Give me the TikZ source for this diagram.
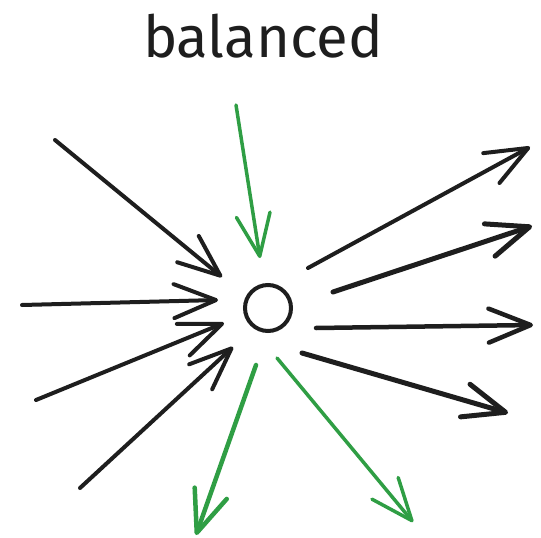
\documentclass[tikz,border=0pt]{standalone}
\usepackage{fontspec}
\setmainfont{Fira Sans}
\usepackage{xcolor}
\usetikzlibrary{arrows.meta}

\definecolor{ink}{HTML}{1E1E1E}
\definecolor{leaf}{HTML}{2F9E44}

\tikzset{
  force/.style={draw=ink, line width=4pt, line cap=round, line join=round,
    -{Straight Barb[length=42pt, width=34pt, round]}},
  green force/.style={force, draw=leaf, line width=3.5pt},
}

\begin{document}
\begin{tikzpicture}[x=1pt, y=-1pt]
    \useasboundingbox (0,0) rectangle (541,538);
    \node (title) [ink, font=\fontsize{58}{60}\selectfont, anchor=base] at (263,57) {balanced};
    \node (hub) [circle, draw=ink, line width=4pt, minimum size=46pt, inner sep=0pt] at (268,308) {};

    % forces coming in
    \coordinate (in1) at (55,140);   \coordinate (in1e) at (222,277);
    \coordinate (in2) at (236,105);  \coordinate (in2e) at (260,258);
    \coordinate (in3) at (22,305);   \coordinate (in3e) at (218,300);
    \coordinate (in4) at (36,400);   \coordinate (in4e) at (224,323);
    \coordinate (in5) at (80,488);   \coordinate (in5e) at (233,347);
    % forces going out
    \coordinate (out1) at (308,268); \coordinate (out1e) at (530,147);
    \coordinate (out2) at (333,292); \coordinate (out2e) at (532,226);
    \coordinate (out3) at (316,328); \coordinate (out3e) at (533,325);
    \coordinate (out4) at (302,353); \coordinate (out4e) at (508,413);
    \coordinate (out5) at (256,365); \coordinate (out5e) at (196,535);
    \coordinate (out6) at (277,358); \coordinate (out6e) at (413,522);

    \draw [force] (in1) -- (in1e);
    \draw [green force] (in2) -- (in2e);
    \draw [force] (in3) -- (in3e);
    \draw [force] (in4) -- (in4e);
    \draw [force] (in5) -- (in5e);

    \draw [force] (out1) -- (out1e);
    \draw [force, line width=5pt] (out2) -- (out2e);
    \draw [force, line width=4.5pt] (out3) -- (out3e);
    \draw [force, line width=5pt] (out4) -- (out4e);
    \draw [green force, line width=4.5pt] (out5) -- (out5e);
    \draw [green force] (out6) -- (out6e);
\end{tikzpicture}
\end{document}
